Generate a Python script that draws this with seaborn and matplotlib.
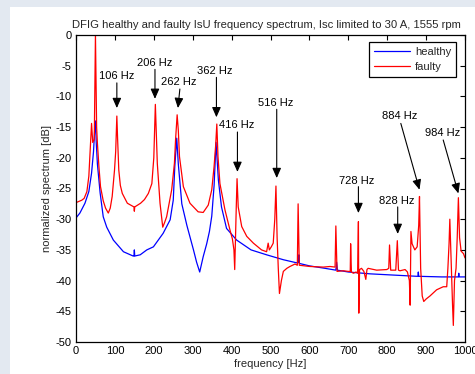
import matplotlib
matplotlib.use("Agg")
import matplotlib.pyplot as plt
import seaborn as sns
import pandas as pd
from matplotlib.patches import Rectangle

# ---------------- data ----------------
healthy_f = [0, 10, 23, 33, 40, 45, 48, 50, 52, 55, 62, 70, 79, 96, 122, 147, 149, 150, 151, 165,
             182, 199, 224, 242, 250, 254, 259, 263, 272, 285, 302, 310, 318, 327, 336, 343, 349,
             355, 360, 366, 374, 387, 413, 450, 490, 533, 567, 572, 573, 574, 600, 640, 668, 670,
             672, 700, 756, 816, 876, 879, 880, 881, 940, 983, 984, 985, 1000]
healthy_db = [-29.8, -29.0, -27.4, -25.5, -22.5, -19.0, -15.5, -14.0, -17.5, -21.0, -25.7, -29.6,
              -31.3, -33.4, -35.3, -36.0, -36.0, -35.0, -36.0, -35.8, -35.0, -34.5, -32.3, -30.1,
              -26.9, -21.4, -16.8, -21.0, -27.5, -31.0, -35.0, -37.0, -38.6, -36.1, -34.0, -32.0,
              -29.5, -24.5, -17.5, -23.6, -28.0, -31.5, -33.4, -35.0, -35.8, -36.6, -37.1, -37.0,
              -35.8, -37.2, -37.6, -38.0, -38.3, -37.0, -38.3, -38.6, -38.9, -39.1, -39.3, -39.3,
              -38.6, -39.3, -39.4, -39.4, -38.8, -39.4, -39.4]

faulty_f = [0, 15, 21, 28, 33, 37, 40, 43, 47, 50, 53, 55, 59, 63, 70, 76, 83, 88, 93, 99, 102,
            105, 107, 110, 114, 119, 132, 149, 150, 151, 166, 176, 186, 195, 200, 204, 206, 209,
            216, 223, 228, 233, 246, 253, 256, 260, 263, 266, 276, 293, 314, 327, 340, 349, 355,
            359, 362, 365, 370, 383, 396, 402, 406, 408, 410, 412, 414, 417, 426, 439, 456, 477,
            490, 494, 497, 502, 507, 511, 514, 517, 520, 523, 528, 533, 542, 550, 563, 569, 571,
            574, 601, 636, 653, 666, 668, 671, 687, 700, 705, 706, 708, 713, 720, 724, 726, 727,
            729, 734, 740, 745, 748, 751, 773, 799, 804, 806, 809, 822, 826, 829, 833, 846, 852,
            857, 859, 861, 864, 871, 877, 881, 883, 886, 890, 894, 900, 910, 927, 944, 953, 956,
            959, 961, 965, 968, 970, 973, 977, 980, 983, 986, 990, 996, 1000]
faulty_db = [-27.3, -26.9, -26.6, -25.5, -23.0, -18.0, -14.4, -17.5, -17.0, 0.0, -15.0, -17.6,
             -21.5, -24.7, -27.0, -28.2, -29.0, -28.2, -26.3, -22.0, -19.0, -13.2, -17.0, -22.0,
             -24.5, -25.8, -27.4, -28.0, -28.7, -28.0, -27.4, -26.8, -25.8, -24.2, -20.0, -11.3,
             -15.0, -20.9, -27.4, -31.3, -30.5, -29.6, -25.2, -20.9, -17.0, -13.0, -15.5, -19.8,
             -24.7, -27.4, -28.8, -28.9, -27.7, -25.2, -21.4, -18.0, -14.5, -19.8, -24.2, -28.5,
             -31.8, -33.2, -35.0, -38.2, -33.0, -28.0, -23.4, -28.0, -31.2, -32.8, -33.9, -35.0,
             -35.3, -33.9, -35.0, -34.5, -33.9, -30.0, -24.6, -33.0, -38.0, -42.1, -40.0, -38.5,
             -38.0, -37.7, -37.3, -37.5, -27.5, -37.5, -37.7, -37.8, -37.7, -37.8, -31.1, -38.5,
             -38.4, -38.5, -38.5, -34.0, -38.6, -38.8, -38.6, -38.8, -30.4, -45.3, -38.2, -38.0,
             -38.5, -39.8, -38.2, -38.0, -38.3, -38.2, -38.0, -34.2, -38.3, -38.3, -33.5, -38.3,
             -38.4, -38.2, -38.6, -40.0, -44.0, -32.0, -34.0, -35.0, -34.5, -31.0, -26.3, -38.0,
             -42.5, -43.4, -43.0, -42.5, -41.5, -41.0, -41.0, -38.0, -34.0, -30.0, -38.0, -44.0,
             -47.3, -40.0, -38.0, -33.0, -26.5, -33.0, -35.2, -35.6, -36.3]

series_names = ["healthy", "faulty"]
series_colors = ["#0000ff", "#ff0000"]

peak_labels = ["106 Hz", "206 Hz", "262 Hz", "362 Hz", "416 Hz", "516 Hz",
               "728 Hz", "828 Hz", "884 Hz", "984 Hz"]
# label text centre (f, dB), arrow start (f, dB), arrow tip (f, dB)
label_pos = [(104, -6.7), (203, -4.6), (264, -7.6), (357, -5.9), (414, -14.7),
             (513, -11.1), (722, -23.7), (825, -27.0), (832, -13.2), (942, -16.0)]
arrow_from = [(105, -7.8), (203, -5.6), (267, -8.8), (361, -6.9), (415, -15.8),
              (516, -12.1), (726, -24.7), (827, -28.0), (835, -14.4), (944, -17.1)]
arrow_to = [(105, -11.9), (203, -10.4), (262, -11.9), (361, -13.4), (415, -22.3),
            (516, -23.3), (726, -29.0), (827, -32.4), (883, -25.2), (983, -25.8)]

title = "DFIG healthy and faulty IsU frequency spectrum, Isc limited to 30 A, 1555 rpm"

# ---------------- figure ----------------
sns.set_style("white")
plt.rcParams["font.family"] = ["Liberation Sans", "DejaVu Sans"]
plt.rcParams["font.size"] = 8
plt.rcParams["axes.unicode_minus"] = False

W, H = 475, 374
fig = plt.figure(figsize=(W / 100, H / 100), dpi=100)
fig.patch.set_facecolor("white")
# slide background around the screenshot
fig.patches.append(Rectangle((0, 1 - 7 / H), 1, 7 / H, transform=fig.transFigure,
                             facecolor="#e3e9f1", edgecolor="none", zorder=0))
fig.patches.append(Rectangle((0, 0), 10 / W, 1, transform=fig.transFigure,
                             facecolor="#e3e9f1", edgecolor="none", zorder=0))

ax = fig.add_axes([76 / W, 1 - 342 / H, (465 - 76) / W, (342 - 35) / H])

df = pd.concat([
    pd.DataFrame({"f": healthy_f, "db": healthy_db, "series": series_names[0]}),
    pd.DataFrame({"f": faulty_f, "db": faulty_db, "series": series_names[1]}),
], ignore_index=True)

sns.lineplot(data=df, x="f", y="db", hue="series", hue_order=series_names,
             palette=dict(zip(series_names, series_colors)), sort=False,
             estimator=None, linewidth=0.9, ax=ax, legend=False)

ax.set_xlim(0, 1000)
ax.set_ylim(-50, 0)
ax.set_xticks(range(0, 1001, 100))
ax.set_yticks(range(-50, 1, 5))
ax.tick_params(direction="in", length=3.5, width=0.8, top=True, right=True,
               labelsize=8, pad=3, colors="black")
for s in ax.spines.values():
    s.set_color("black")
    s.set_linewidth(0.9)

ax.set_xlabel("frequency [Hz]", fontsize=8, labelpad=2)
ax.set_ylabel("normalized spectrum [dB]", fontsize=8, labelpad=3)
ax.set_title(title, fontsize=8.1, pad=5, x=0.49)

for lab, tp, a0, a1 in zip(peak_labels, label_pos, arrow_from, arrow_to):
    ax.text(tp[0], tp[1], lab, ha="center", va="center", fontsize=8, color="black")
    ax.annotate("", xy=a1, xytext=a0,
                arrowprops=dict(arrowstyle="-|>,head_length=0.5,head_width=0.22",
                                mutation_scale=12, color="black", lw=0.8,
                                shrinkA=0, shrinkB=0))

handles = [plt.Line2D([], [], color=c, lw=0.9) for c in series_colors]
leg = ax.legend(handles, series_names, loc="upper right", bbox_to_anchor=(0.977, 0.978),
                borderaxespad=0, fontsize=8, frameon=True, fancybox=False,
                edgecolor="black", framealpha=1, handlelength=3.3, handletextpad=0.4,
                labelspacing=0.45, borderpad=0.45)
leg.get_frame().set_linewidth(0.9)

fig.savefig("out.png", dpi=100)
